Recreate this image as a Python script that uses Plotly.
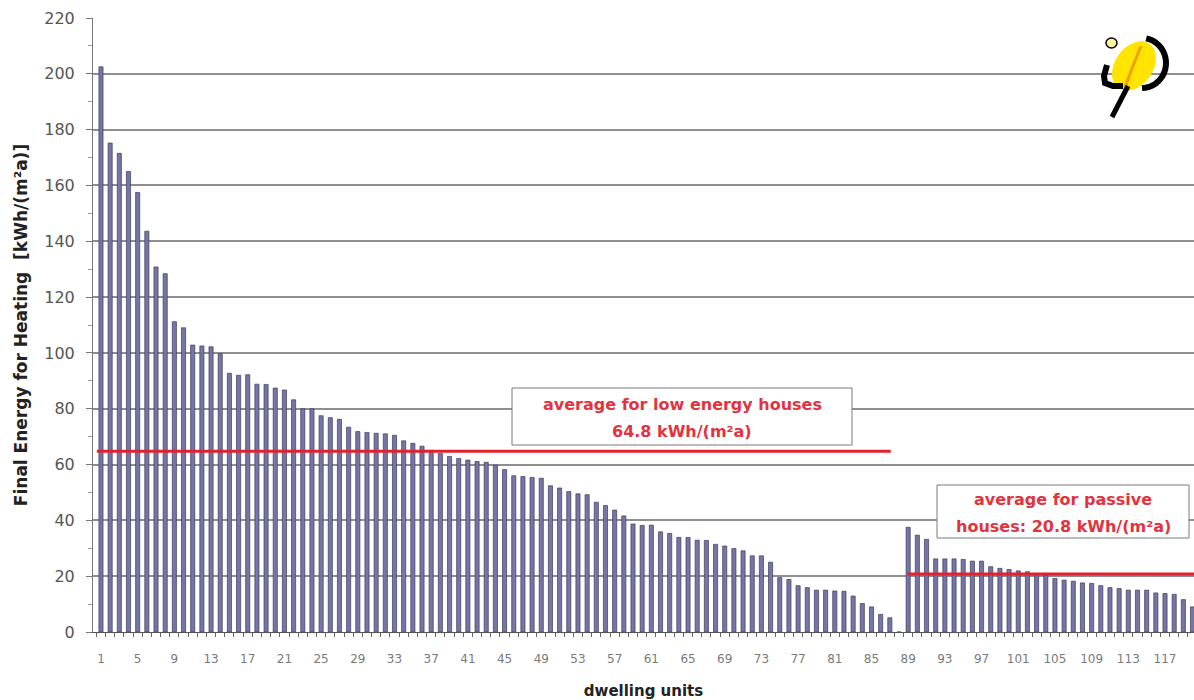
import math
import plotly.graph_objects as go

# ---------------- data ----------------
units = list(range(1, 121))
heating = [
    202.5, 175.2, 171.5, 165.0, 157.5, 143.6, 130.8, 128.4, 111.2, 109.0,
    102.8, 102.5, 102.2, 99.7, 92.7, 92.0, 92.2, 88.8, 88.7, 87.4,
    86.7, 83.2, 80.0, 80.0, 77.5, 76.8, 76.2, 73.4, 71.8, 71.5,
    71.2, 71.0, 70.5, 68.5, 67.6, 66.6, 65.1, 64.0, 62.9, 62.2,
    61.6, 61.1, 60.8, 59.8, 58.2, 56.0, 55.7, 55.4, 55.1, 52.4,
    51.6, 50.3, 49.5, 49.2, 46.5, 45.3, 43.7, 41.6, 38.7, 38.2,
    38.3, 35.9, 35.3, 33.9, 33.9, 32.9, 32.8, 31.4, 30.8, 29.9,
    29.1, 27.3, 27.3, 25.0, 19.5, 18.8, 16.6, 15.9, 15.0, 15.0,
    14.7, 14.6, 12.9, 10.2, 9.0, 6.3, 5.1, 0.0, 37.5, 34.7,
    33.2, 26.2, 26.2, 26.2, 26.0, 25.4, 25.4, 23.4, 22.8, 22.4,
    21.9, 21.6, 20.7, 20.4, 19.2, 18.6, 18.2, 17.6, 17.4, 16.6,
    15.9, 15.6, 15.0, 15.0, 15.0, 14.0, 13.8, 13.5, 11.6, 9.0,
]
tick_units = list(range(1, 118, 4))
y_ticks = list(range(0, 221, 20))

avg_low = 64.8
avg_passive = 20.8
low_span = [1, 87]
passive_span = [89, 120]
label_low = ["average for low energy houses", "64.8 kWh/(m²a)"]
label_passive = ["average for passive", "houses: 20.8 kWh/(m²a)"]

# ---------------- layout geometry ----------------
W, H = 1194, 700
L, R, T, B = 93, 0, 18, 68
PW, PH = W - L - R, H - T - B
FONT = "DejaVu Sans, Verdana, sans-serif"


def px(x, y):
    """pixel position -> paper coordinates"""
    return (x - L) / PW, (H - B - y) / PH


def path(points, close=False):
    s = ""
    for i, (x, y) in enumerate(points):
        a, b = px(x, y)
        s += ("M" if i == 0 else "L") + f"{a:.5f},{b:.5f} "
    return s + ("Z" if close else "")


fig = go.Figure()
fig.add_trace(go.Bar(
    x=units, y=heating,
    marker=dict(color="#7575a6", line=dict(color="#3c3c5e", width=0.7)),
    hoverinfo="x+y",
))

shapes = []
# average lines
shapes.append(dict(type="line", xref="x", yref="y",
                   x0=low_span[0] - 0.45, x1=low_span[1] + 0.1,
                   y0=avg_low, y1=avg_low,
                   line=dict(color="#e3202e", width=3)))
shapes.append(dict(type="line", xref="x", yref="y",
                   x0=passive_span[0] - 0.1, x1=passive_span[1] + 0.5,
                   y0=avg_passive, y1=avg_passive,
                   line=dict(color="#e3202e", width=3)))

# label boxes
for (x0, y0, x1, y1) in [(512, 388, 852, 445), (937, 485, 1189, 538)]:
    a0, b0 = px(x0, y1)
    a1, b1 = px(x1, y0)
    shapes.append(dict(type="rect", xref="paper", yref="paper",
                       x0=a0, y0=b0, x1=a1, y1=b1,
                       fillcolor="white", line=dict(color="#7a7a7a", width=1),
                       layer="above"))

annotations = []
for txt, (cx, cy) in zip(label_low, [(682, 404), (682, 431)]):
    a, b = px(cx, cy)
    annotations.append(dict(text=f"<b>{txt}</b>", x=a, y=b, xref="paper", yref="paper",
                            showarrow=False, xanchor="center", yanchor="middle",
                            font=dict(family=FONT, size=16, color="#e2333f")))
for txt, (cx, cy) in zip(label_passive, [(1063, 499), (1063, 526)]):
    a, b = px(cx, cy)
    annotations.append(dict(text=f"<b>{txt}</b>", x=a, y=b, xref="paper", yref="paper",
                            showarrow=False, xanchor="center", yanchor="middle",
                            font=dict(family=FONT, size=16, color="#e2333f")))

# logo (decorative)
cx, cy, ra, rb, rot = 1134, 66, 27, 19, math.radians(-55)
ell = []
for k in range(40):
    t = 2 * math.pi * k / 40
    ex, ey = ra * math.cos(t), rb * math.sin(t)
    ell.append((cx + ex * math.cos(rot) - ey * math.sin(rot),
                cy + ex * math.sin(rot) + ey * math.cos(rot)))
shapes.append(dict(type="path", xref="paper", yref="paper", path=path(ell, True),
                   fillcolor="#ffe400", line=dict(width=0), layer="above"))
shapes.append(dict(type="path", xref="paper", yref="paper",
                   path=path([(1141, 46), (1133, 66), (1125, 87)]),
                   line=dict(color="#f0a000", width=3), layer="above"))
arc = []
for k in range(21):
    t = math.radians(-80 + 170 * k / 20)
    arc.append((1142 + 24 * math.cos(t), 63 + 25 * math.sin(t)))
shapes.append(dict(type="path", xref="paper", yref="paper", path=path(arc),
                   line=dict(color="black", width=6), layer="above"))
shapes.append(dict(type="path", xref="paper", yref="paper",
                   path=path([(1107, 65), (1104, 76), (1105, 83), (1113, 86), (1123, 86)]),
                   line=dict(color="black", width=6), layer="above"))
shapes.append(dict(type="path", xref="paper", yref="paper",
                   path=path([(1128, 86), (1112, 117)]),
                   line=dict(color="black", width=5), layer="above"))
c0 = px(1106, 38)
c1 = px(1117, 48)
shapes.append(dict(type="circle", xref="paper", yref="paper",
                   x0=c0[0], y0=c1[1], x1=c1[0], y1=c0[1],
                   fillcolor="#fff6a0", line=dict(color="black", width=1.5), layer="above"))

fig.update_layout(
    width=W, height=H,
    margin=dict(l=L, r=R, t=T, b=B, pad=0, autoexpand=False),
    plot_bgcolor="white", paper_bgcolor="white",
    bargap=0.55, showlegend=False,
    font=dict(family=FONT),
    shapes=shapes, annotations=annotations,
    xaxis=dict(
        range=[0.13, 120.16], tickmode="array", tickvals=tick_units,
        ticktext=[str(v) for v in tick_units],
        tickfont=dict(size=12, color="#7a7a7a"),
        ticks="", showgrid=False, zeroline=False, automargin=False,
        showline=True, linecolor="#555555", linewidth=1,
        ticklabelstandoff=16,
        minor=dict(ticks="outside", tick0=0.5, dtick=1, ticklen=4,
                   tickcolor="#666666", showgrid=False),
        title=dict(text="<b>dwelling units</b>", standoff=22,
                   font=dict(size=15, color="#222222")),
    ),
    yaxis=dict(
        range=[0, 220], tickmode="array", tickvals=y_ticks,
        tickfont=dict(size=16, color="#555555"),
        showgrid=True, gridcolor="#8f8f8f", gridwidth=1.5, zeroline=False,
        automargin=False,
        showline=True, linecolor="#777777", linewidth=1,
        ticks="outside", ticklen=6, tickcolor="#777777",
        ticklabelstandoff=8,
        minor=dict(ticks="outside", dtick=10, ticklen=4, tickcolor="#999999",
                   showgrid=False),
        title=dict(text="<b>Final Energy for Heating  [kWh/(m²a)]</b>", standoff=12,
                   font=dict(size=17, color="#222222")),
    ),
)

fig.write_html("out.html", config={"displayModeBar": False},
               post_script="document.body.style.margin='0px';")
